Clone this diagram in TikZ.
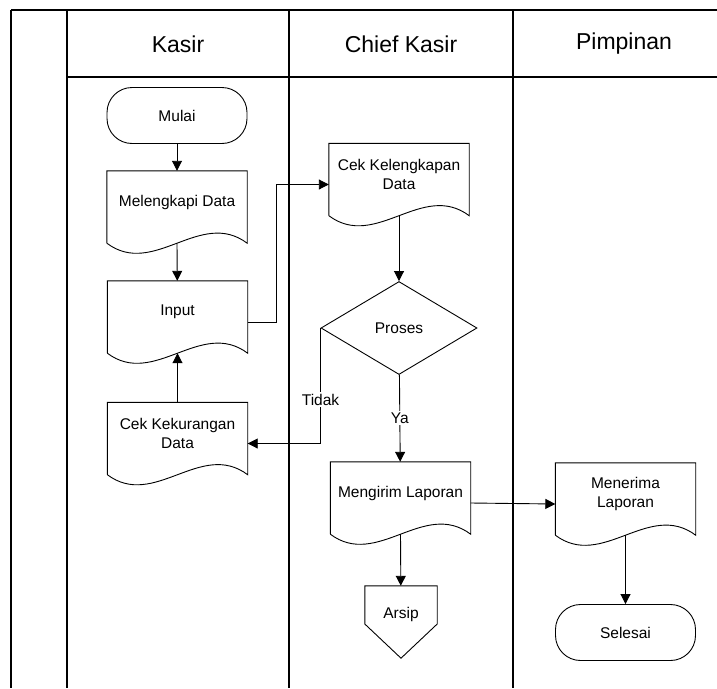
\documentclass[tikz,border=0pt]{standalone}
\usepackage{fontspec}
\setmainfont{Liberation Sans}
\usetikzlibrary{arrows.meta,shapes.geometric}

% document outline round a docbox node (wavy bottom, 10pt below the node)
\newcommand{\docframe}[1]{%
  \draw[shapeline] ([yshift=-10pt]#1.south west) -- (#1.north west) -- (#1.north east)
    -- ([yshift=-10pt]#1.south east)
    .. controls ([xshift=-47pt,yshift=25pt]#1.south east) and ([xshift=47pt,yshift=-45pt]#1.south west)
    .. ([yshift=-10pt]#1.south west);}
% off-page connector outline round an offpagebox node
\newcommand{\offpageframe}[1]{%
  \draw[shapeline] (#1.north west) -- (#1.north east) -- ([yshift=-10pt]#1.east)
    -- ([yshift=-16pt]#1.south) -- ([yshift=-10pt]#1.west) -- cycle;}

\begin{document}
\begin{tikzpicture}[x=1pt, y=-1pt,
  font=\fontsize{15.5}{19}\selectfont,
  shapeline/.style={draw=black, line width=0.9pt},
  docbox/.style={rectangle, minimum width=140pt, minimum height=62pt, inner sep=0pt, align=center},
  termbox/.style={shapeline, rectangle, rounded corners=25pt, minimum width=140pt, minimum height=56pt, inner sep=0pt},
  decisionbox/.style={shapeline, diamond, aspect=1.68, minimum width=156pt, minimum height=93pt, inner sep=0pt},
  offpagebox/.style={rectangle, minimum width=72pt, minimum height=56pt, inner sep=0pt},
  flow/.style={draw=black, line width=0.9pt, -{Triangle[length=10pt,width=10pt]}},
  flowlabel/.style={fill=white, inner sep=1.5pt},
  lanetitle/.style={font=\fontsize{23}{27}\selectfont}]
\providecommand{\laneLineWidth}{1.3pt}
\useasboundingbox (0,0) rectangle (717,688);
% Lanes
\begin{scope}[draw=black, line width=\laneLineWidth]
  \draw (11,10) -- (717,10);
  \draw (67,77) -- (717,77);
  \draw (11,10) -- (11,688);
  \draw (67,10) -- (67,688);
  \draw (289,10) -- (289,688);
  \draw (513,10) -- (513,688);
\end{scope}
% Headers
\node[lanetitle] (hkasir) at (178,44) {Kasir};
\node[lanetitle] (hchief) at (401,44) {Chief Kasir};
\node[lanetitle] (hpimpinan) at (624,44) {Pimpinan};
% Kasir
\node[termbox] (mulai) at (177,115.5) {Mulai};
\node[docbox] (melengkapi) at (177,202) {Melengkapi Data};
\node[docbox] (input) at (177.5,312) {Input};
\node[docbox] (cekkurang) at (177.5,433.5) {Cek Kekurangan\\Data};
% Chief Kasir
\node[docbox] (ceklengkap) at (399,174.5) {Cek Kelengkapan\\Data};
\node[decisionbox] (proses) at (399,328) {Proses};
\node[docbox] (mengirim) at (400.5,493) {Mengirim Laporan};
\node[offpagebox] (arsip) at (401,614) {Arsip};
% Pimpinan
\node[docbox] (menerima) at (625.5,494) {Menerima\\Laporan};
\node[termbox] (selesai) at (625.5,632.5) {Selesai};
% Outlines
\docframe{melengkapi}
\docframe{input}
\docframe{cekkurang}
\docframe{ceklengkap}
\docframe{mengirim}
\docframe{menerima}
\offpageframe{arsip}
% Flow
\draw[flow] (mulai) -- (melengkapi);
\draw[flow] ([yshift=-10pt]melengkapi.south) -- (input);
\draw[flow] ([yshift=-10pt]input.east) -- ++(29,0) |- ([yshift=-10pt]ceklengkap.west);
\draw[flow] ([yshift=-10pt]ceklengkap.south) -- (proses);
\draw[flow] (proses.west) |- node[flowlabel, pos=0.31] {Tidak} ([yshift=-10pt]cekkurang.east);
\draw[flow] (cekkurang) -- ([yshift=-10pt]input.south);
\draw[flow] (proses) -- node[flowlabel] {Ya} (mengirim);
\draw[flow] ([yshift=-10pt]mengirim.east) -- ([yshift=-10pt]menerima.west);
\draw[flow] ([yshift=-10pt]mengirim.south) -- (arsip);
\draw[flow] ([yshift=-10pt]menerima.south) -- (selesai);
\end{tikzpicture}
\end{document}
